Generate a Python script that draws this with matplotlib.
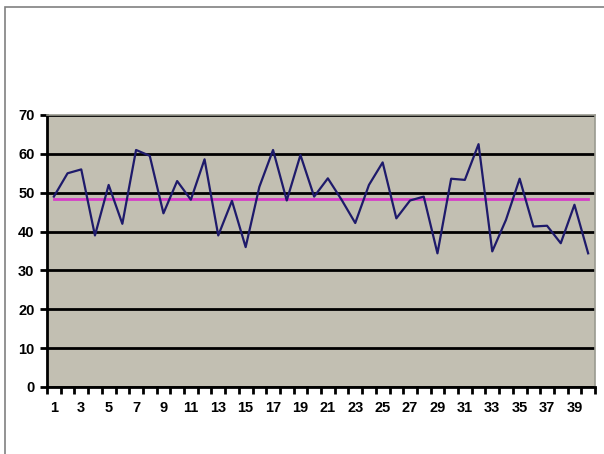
import matplotlib
matplotlib.use("Agg")
import matplotlib.pyplot as plt
from matplotlib.patches import Rectangle

categories = list(range(1, 41))
values = [49, 55, 56, 39, 52, 42, 61, 59.5, 44.7, 53, 48.2, 58.6, 39, 47.9, 36,
          51.5, 61, 48, 59.7, 49, 53.7, 48.2, 42.2, 52, 57.8, 43.4, 48, 49,
          34.4, 53.6, 53.3, 62.5, 34.9, 43, 53.6, 41.3, 41.5, 37, 46.9, 34.4]
average = 48.4
y_ticks = [0, 10, 20, 30, 40, 50, 60, 70]
x_labels = [str(c) if c % 2 == 1 else "" for c in categories]

W, H = 604, 454
fig = plt.figure(figsize=(W / 100, H / 100), dpi=100)
fig.patch.set_facecolor("white")
# outer chart border
fig.patches.append(Rectangle((5 / W, -0.1), 1.2, (H - 7) / H + 0.1,
                             transform=fig.transFigure, fill=False,
                             edgecolor="#808080", linewidth=1.2))

left, right, top, bottom = 47, 595, 115, 387
ax = fig.add_axes([left / W, 1 - bottom / H, (right - left) / W, (bottom - top) / H])
ax.set_facecolor("#C2BFB2")

x = list(range(len(categories)))
ax.plot(x, [average] * len(x), color="#D63FC8", linewidth=2, zorder=3)
ax.plot(x, values, color="#1E1A6B", linewidth=1.6, zorder=4)

ax.set_xlim(-0.5, len(categories) - 0.5)
ax.set_ylim(0, 70)
ax.set_yticks(y_ticks)
ax.set_yticklabels([str(v) for v in y_ticks])
ax.yaxis.grid(True, color="black", linewidth=2)
ax.set_axisbelow(True)

ax.set_xticks(x)
ax.set_xticklabels(x_labels)
ax.set_xticks([i - 0.5 for i in range(len(categories) + 1)], minor=True)
ax.tick_params(axis="x", which="major", length=0, pad=10)
ax.tick_params(axis="x", which="minor", length=5, width=2, direction="out")
ax.tick_params(axis="y", length=5, width=2, direction="out", pad=4)
for lab in ax.get_xticklabels() + ax.get_yticklabels():
    lab.set_fontfamily("Liberation Sans")
    lab.set_fontsize(10.5)
    lab.set_fontweight("bold")

for s in ["left", "bottom"]:
    ax.spines[s].set_color("black")
    ax.spines[s].set_linewidth(2)
for s in ["top", "right"]:
    ax.spines[s].set_color("#9A9A90")
    ax.spines[s].set_linewidth(1.2)

fig.savefig("out.png", dpi=100)
